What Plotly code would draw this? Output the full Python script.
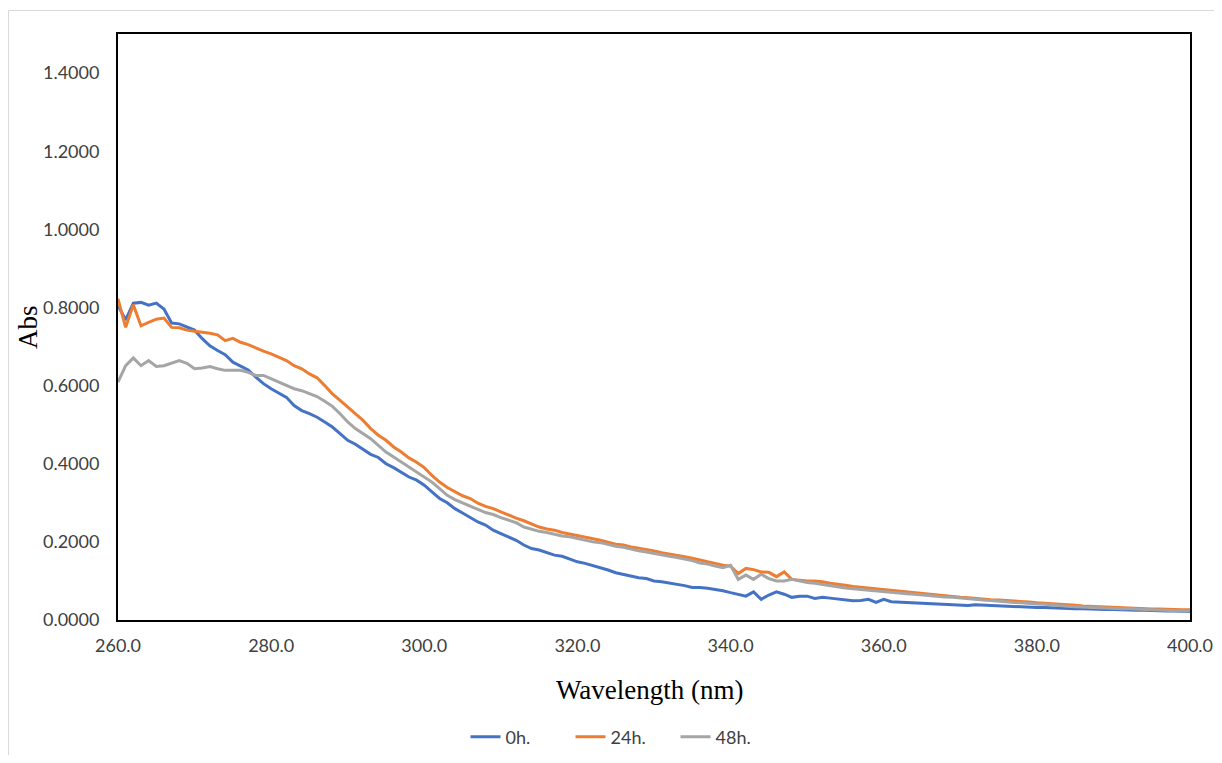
import plotly.graph_objects as go

wavelength = list(range(260, 401))

abs_0h = [
    0.805, 0.768, 0.811, 0.813, 0.806, 0.811, 0.796, 0.760, 0.758, 0.749,
    0.742, 0.720, 0.702, 0.690, 0.679, 0.660, 0.649, 0.640, 0.622, 0.605,
    0.592, 0.581, 0.570, 0.549, 0.536, 0.528, 0.519, 0.507, 0.494, 0.477,
    0.460, 0.450, 0.438, 0.424, 0.416, 0.400, 0.390, 0.379, 0.366, 0.358,
    0.345, 0.328, 0.311, 0.300, 0.285, 0.274, 0.262, 0.251, 0.243, 0.230,
    0.221, 0.213, 0.204, 0.192, 0.183, 0.179, 0.172, 0.166, 0.163, 0.156,
    0.149, 0.145, 0.140, 0.135, 0.128, 0.121, 0.117, 0.112, 0.108, 0.106,
    0.100, 0.098, 0.095, 0.092, 0.088, 0.083, 0.083, 0.081, 0.078, 0.075,
    0.070, 0.066, 0.061, 0.072, 0.053, 0.064, 0.072, 0.066, 0.058, 0.061,
    0.061, 0.055, 0.058, 0.056, 0.054, 0.052, 0.049, 0.050, 0.053, 0.045,
    0.053, 0.047, 0.046, 0.046, 0.045, 0.044, 0.043, 0.042, 0.041, 0.040,
    0.038, 0.037, 0.039, 0.038, 0.037, 0.036, 0.035, 0.034, 0.034, 0.033,
    0.032, 0.032, 0.031, 0.030, 0.030, 0.029, 0.029, 0.028, 0.028, 0.027,
    0.027, 0.026, 0.026, 0.025, 0.025, 0.024, 0.024, 0.023, 0.023, 0.022,
    0.022,
]

abs_24h = [
    0.822, 0.749, 0.807, 0.753, 0.762, 0.770, 0.773, 0.749, 0.748, 0.742,
    0.739, 0.737, 0.734, 0.730, 0.715, 0.721, 0.711, 0.705, 0.696, 0.688,
    0.681, 0.673, 0.664, 0.651, 0.643, 0.630, 0.620, 0.600, 0.579, 0.562,
    0.545, 0.528, 0.511, 0.490, 0.473, 0.460, 0.443, 0.430, 0.415, 0.404,
    0.390, 0.370, 0.353, 0.339, 0.328, 0.318, 0.311, 0.299, 0.291, 0.285,
    0.277, 0.268, 0.261, 0.254, 0.245, 0.238, 0.233, 0.230, 0.224, 0.220,
    0.217, 0.213, 0.208, 0.204, 0.199, 0.194, 0.192, 0.187, 0.184, 0.181,
    0.177, 0.172, 0.169, 0.166, 0.162, 0.158, 0.153, 0.149, 0.145, 0.140,
    0.138, 0.119, 0.132, 0.129, 0.123, 0.122, 0.111, 0.123, 0.104, 0.102,
    0.100, 0.100, 0.098, 0.094, 0.092, 0.089, 0.086, 0.084, 0.082, 0.080,
    0.078, 0.076, 0.074, 0.071, 0.069, 0.067, 0.066, 0.064, 0.062, 0.060,
    0.058, 0.057, 0.055, 0.054, 0.052, 0.051, 0.050, 0.048, 0.047, 0.046,
    0.044, 0.043, 0.041, 0.040, 0.039, 0.038, 0.036, 0.035, 0.034, 0.033,
    0.033, 0.032, 0.031, 0.030, 0.029, 0.028, 0.028, 0.027, 0.027, 0.026,
    0.026,
]

abs_48h = [
    0.609, 0.651, 0.671, 0.651, 0.664, 0.649, 0.651, 0.657, 0.664, 0.657,
    0.643, 0.645, 0.649, 0.643, 0.639, 0.639, 0.639, 0.634, 0.626, 0.626,
    0.617, 0.609, 0.600, 0.592, 0.587, 0.579, 0.572, 0.560, 0.547, 0.528,
    0.507, 0.490, 0.477, 0.464, 0.447, 0.430, 0.417, 0.404, 0.393, 0.379,
    0.366, 0.353, 0.336, 0.319, 0.308, 0.299, 0.292, 0.283, 0.275, 0.270,
    0.262, 0.255, 0.249, 0.238, 0.232, 0.227, 0.224, 0.220, 0.215, 0.213,
    0.209, 0.204, 0.200, 0.198, 0.193, 0.189, 0.186, 0.181, 0.177, 0.174,
    0.170, 0.166, 0.163, 0.160, 0.156, 0.152, 0.146, 0.143, 0.138, 0.134,
    0.140, 0.104, 0.115, 0.104, 0.117, 0.106, 0.100, 0.100, 0.104, 0.100,
    0.096, 0.094, 0.091, 0.087, 0.084, 0.082, 0.080, 0.078, 0.076, 0.074,
    0.072, 0.071, 0.069, 0.067, 0.066, 0.064, 0.062, 0.061, 0.059, 0.058,
    0.056, 0.054, 0.053, 0.051, 0.050, 0.048, 0.047, 0.045, 0.044, 0.042,
    0.041, 0.040, 0.038, 0.037, 0.035, 0.034, 0.033, 0.032, 0.032, 0.031,
    0.030, 0.029, 0.029, 0.028, 0.027, 0.026, 0.026, 0.025, 0.024, 0.023,
    0.023,
]

series_names = ["0h.", "24h.", "48h."]
series_colors = ["#4472C4", "#ED7D31", "#A5A5A5"]
series_values = [abs_0h, abs_24h, abs_48h]

x_ticks = [260, 280, 300, 320, 340, 360, 380, 400]
y_ticks = [0.0, 0.2, 0.4, 0.6, 0.8, 1.0, 1.2, 1.4]

fig = go.Figure()
for name, color, vals in zip(series_names, series_colors, series_values):
    fig.add_trace(go.Scatter(
        x=wavelength, y=vals, mode="lines", name=name,
        line=dict(color=color, width=3),
    ))

# page body has an 8px margin, so figure coords = page coords - 8
OFF = 8
W, H = 1206, 747
L, R, T, B = 118 - OFF, 1190 - OFF, 34 - OFF, 620 - OFF
pw, ph = R - L, B - T


def px(page_x):
    return (page_x - OFF - L) / pw


def py(page_y):
    return (B - (page_y - OFF)) / ph


tick_font = dict(family="Lato, 'Open Sans', sans-serif", size=18, color="#404040")
title_font = dict(family="'Liberation Serif', 'Times New Roman', serif", size=27, color="#000000")

fig.update_layout(
    width=W, height=H,
    margin=dict(l=L, r=W - R, t=T, b=H - B, autoexpand=False),
    paper_bgcolor="white", plot_bgcolor="white",
    showlegend=True,
    legend=dict(
        orientation="h", x=px(623), y=py(737), xanchor="center", yanchor="middle",
        font=tick_font, bgcolor="rgba(0,0,0,0)",
        entrywidth=60, entrywidthmode="pixels",
    ),
    xaxis=dict(
        range=[260, 400], tickvals=x_ticks, tickformat=".1f",
        showgrid=False, zeroline=False, automargin=False,
        showline=True, linecolor="black", linewidth=2, mirror=True,
        ticks="", tickfont=tick_font, ticklabelstandoff=8,
    ),
    yaxis=dict(
        range=[0, 1.5], tickvals=y_ticks, tickformat=".4f",
        showgrid=False, zeroline=False, automargin=False,
        showline=True, linecolor="black", linewidth=2, mirror=True,
        ticks="", tickfont=tick_font, ticklabelstandoff=13,
    ),
    annotations=[
        dict(text="Wavelength (nm)", xref="paper", yref="paper",
             x=px(650), y=py(690), xanchor="center", yanchor="middle",
             showarrow=False, font=title_font),
        dict(text="Abs", xref="paper", yref="paper", textangle=-90,
             x=px(28), y=py(327), xanchor="center", yanchor="middle",
             showarrow=False, font=title_font),
    ],
    shapes=[
        dict(type="line", xref="paper", yref="paper",
             x0=px(8.5), x1=px(1230), y0=py(10.5), y1=py(10.5),
             line=dict(color="#D9D9D9", width=1)),
        dict(type="line", xref="paper", yref="paper",
             x0=px(8.5), x1=px(8.5), y0=py(10.5), y1=py(800),
             line=dict(color="#D9D9D9", width=1)),
    ],
)

fig.write_html("out.html")
